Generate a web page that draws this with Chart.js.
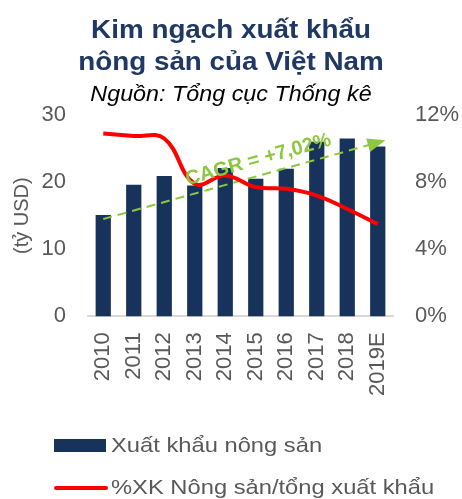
<!DOCTYPE html>
<html>
<head>
<meta charset="utf-8">
<script src="https://cdn.jsdelivr.net/npm/chart.js@4"></script>
<style>
  html, body { margin: 0; padding: 0; background: #fff; }
  #wrap { position: relative; width: 462px; height: 499px; overflow: hidden; font-family: "Liberation Sans", Arial, sans-serif; }
  #title { position: absolute; left: 0; width: 462px; top: 13px; text-align: center; color: #1f3864; font-weight: bold; font-size: 26px; line-height: 32px; transform: scaleX(1.07); }
  #source { position: absolute; left: 0; width: 462px; top: 81px; text-align: center; font-style: italic; font-size: 22px; color: #000; transform: scaleX(1.06); }
  .leg { position: absolute; left: 54px; font-size: 21px; color: #595959; white-space: nowrap; }
  .leg span.box { position: absolute; left: 0; width: 52px; height: 13px; background: #17335c; }
  .leg span.ln { position: absolute; left: 0; width: 54px; height: 4px; background: #ff0000; border-radius: 2px; }
  .leg span.t { position: absolute; left: 57px; top: 0; transform: scaleX(1.13); transform-origin: left; }
  canvas { position: absolute; left: 0; top: 0; }
</style>
</head>
<body>
<div id="wrap">
  <canvas id="chart" width="462" height="499"></canvas>
  <div id="title">Kim ngạch xuất khẩu<br>nông sản của Việt Nam</div>
  <div id="source">Nguồn: Tổng cục Thống kê</div>
  <div class="leg" style="top:433px;"><span class="box" style="top:6px;"></span><span class="t">Xuất khẩu nông sản</span></div>
  <div class="leg" style="top:475px;"><span class="ln" style="top:11px;"></span><span class="t">%XK Nông sản/tổng xuất khẩu</span></div>
</div>
<script>
const years = ['2010', '2011', '2012', '2013', '2014', '2015', '2016', '2017', '2018', '2019E'];
const exportValue = [15.1, 19.6, 20.9, 19.5, 22.1, 20.5, 22.0, 26.0, 26.5, 25.3];
const exportShare = [10.9, 10.75, 10.6, 7.9, 8.4, 7.7, 7.6, 7.2, 6.4, 5.5];
const trendLine = [14.5, null, null, null, null, null, null, null, null, 25.9];
const cagrLabel = 'CAGR = +7,02%';
const leftTicks = [0, 10, 20, 30];
const rightTicks = [0, 4, 8, 12];

const green = '#8dc63f';
const tickColor = '#595959';
const tickFont = { size: 22, family: '"Liberation Sans", Arial, sans-serif' };

// arrow head + CAGR text along the trend line
const trendDecor = {
    id: 'trendDecor',
    afterDatasetsDraw(chart) {
        const meta = chart.getDatasetMeta(2);
        const p0 = meta.data[0], p1 = meta.data[meta.data.length - 1];
        const ang = Math.atan2(p1.y - p0.y, p1.x - p0.x);
        const ctx = chart.ctx;
        ctx.save();
        ctx.translate(p1.x, p1.y);
        ctx.rotate(ang);
        ctx.fillStyle = green;
        ctx.beginPath();
        ctx.moveTo(8, 0);
        ctx.lineTo(-10, -7);
        ctx.lineTo(-10, 7);
        ctx.closePath();
        ctx.fill();
        ctx.restore();

        ctx.save();
        const mx = p0.x + (p1.x - p0.x) * 0.58;
        const my = p0.y + (p1.y - p0.y) * 0.58;
        ctx.translate(mx, my);
        ctx.rotate(ang);
        ctx.font = 'bold 20px "Liberation Sans", Arial, sans-serif';
        ctx.fillStyle = green;
        ctx.textAlign = 'center';
        ctx.fillText(cagrLabel, 0, -10);
        ctx.restore();
    }
};

const ctx = document.getElementById('chart').getContext('2d');
const chart = new Chart(ctx, {
    data: {
        labels: years,
        datasets: [
            {
                type: 'line',
                label: '%XK Nông sản/tổng xuất khẩu',
                data: exportShare,
                yAxisID: 'y2',
                borderColor: '#ff0000',
                borderWidth: 4,
                pointRadius: 0,
                tension: 0.4,
                order: 0
            },
            {
                type: 'bar',
                label: 'Xuất khẩu nông sản',
                data: exportValue,
                yAxisID: 'y',
                backgroundColor: '#17335c',
                barPercentage: 0.5,
                categoryPercentage: 1.0,
                order: 2
            },
            {
                type: 'line',
                label: 'trend',
                data: trendLine,
                yAxisID: 'y',
                spanGaps: true,
                borderColor: green,
                borderWidth: 2,
                borderDash: [9, 6],
                pointRadius: 0,
                order: 1
            }
        ]
    },
    options: {
        responsive: false,
        animation: false,
        layout: { padding: { top: 115, left: 0, right: 0, bottom: 87 } },
        plugins: {
            legend: { display: false },
            tooltip: { enabled: false }
        },
        scales: {
            x: {
                grid: { display: false, drawTicks: false },
                border: { color: '#d9d9d9', width: 2 },
                ticks: {
                    color: tickColor,
                    font: tickFont,
                    autoSkip: false,
                    minRotation: 90,
                    maxRotation: 90,
                    padding: 16
                }
            },
            y: {
                position: 'left',
                min: 0,
                max: 30,
                grid: { display: false, drawTicks: false },
                border: { display: false },
                afterBuildTicks: axis => { axis.ticks = leftTicks.map(v => ({ value: v })); },
                afterFit: axis => { axis.width = 88; },
                ticks: { color: tickColor, font: tickFont, padding: 22 },
                title: {
                    display: true,
                    text: '(tỷ USD)',
                    color: tickColor,
                    font: { size: 20, family: '"Liberation Sans", Arial, sans-serif' },
                    padding: { top: 10, bottom: 0 }
                }
            },
            y2: {
                position: 'right',
                min: 0,
                max: 12,
                grid: { display: false, drawTicks: false },
                border: { display: false },
                afterBuildTicks: axis => { axis.ticks = rightTicks.map(v => ({ value: v })); },
                afterFit: axis => { axis.width = 69; },
                ticks: {
                    color: tickColor,
                    font: tickFont,
                    padding: 22,
                    callback: v => v + '%'
                }
            }
        }
    },
    plugins: [trendDecor]
});
</script>
</body>
</html>
